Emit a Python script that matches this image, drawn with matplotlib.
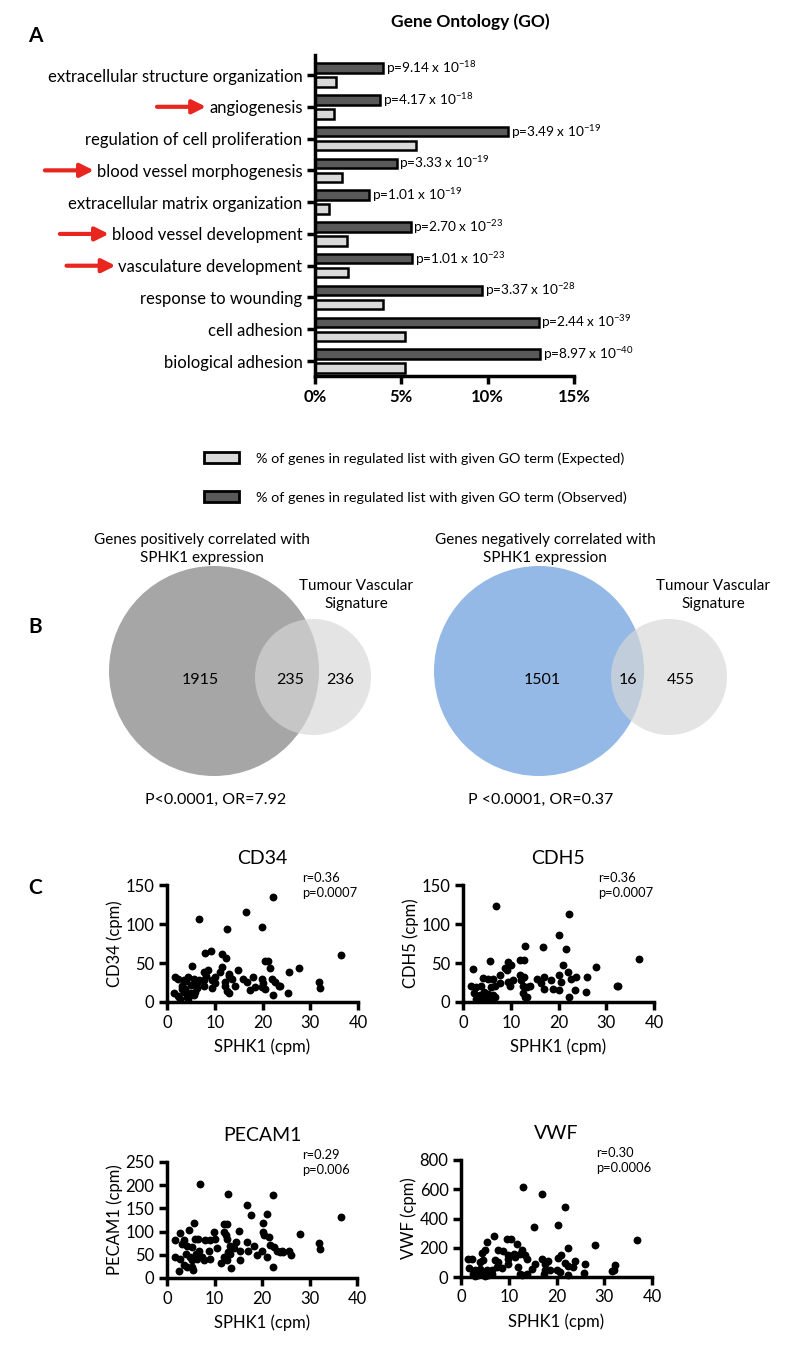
import matplotlib
matplotlib.use("Agg")
import matplotlib.pyplot as plt
from matplotlib.patches import Patch, Circle
import numpy as np

plt.rcParams['font.family'] = ['Lato', 'DejaVu Sans']
plt.rcParams['mathtext.fontset'] = 'custom'
plt.rcParams['mathtext.rm'] = 'Lato'
plt.rcParams['mathtext.it'] = 'Lato:italic'
plt.rcParams['mathtext.bf'] = 'Lato:bold'

# ---- panel A data (GO terms, top to bottom) ----
go_terms = ["extracellular structure organization", "angiogenesis",
            "regulation of cell proliferation", "blood vessel morphogenesis",
            "extracellular matrix organization", "blood vessel development",
            "vasculature development", "response to wounding",
            "cell adhesion", "biological adhesion"]
observed = [3.96, 3.78, 11.2, 4.73, 3.13, 5.54, 5.63, 9.7, 12.95, 13.03]
expected = [1.22, 1.10, 5.85, 1.58, 0.79, 1.84, 1.89, 3.96, 5.21, 5.21]
p_mantissa = ["9.14", "4.17", "3.49", "3.33", "1.01", "2.70", "1.01", "3.37", "2.44", "8.97"]
p_exponent = [-18, -18, -19, -19, -19, -23, -23, -28, -39, -40]
arrowed = ["angiogenesis", "blood vessel morphogenesis",
           "blood vessel development", "vasculature development"]
legend_labels = ["% of genes in regulated list with given GO term (Expected)",
                 "% of genes in regulated list with given GO term (Observed)"]

# ---- panel B data ----
venn_pos = [1915, 235, 236]
venn_neg = [1501, 16, 455]

# ---- panel C data ----
cd34_x = [22.1, 16.5, 6.6, 19.9, 12.6, 9.3, 7.9, 11.6, 12.4, 36.5, 21.1, 20.6, 5.2, 27.7, 21.5,
          11.5, 25.6, 8.6, 7.7, 14.9, 1.7, 2.4, 3.5, 4.5, 5.6, 6.6, 10.1, 12.9, 13.6, 16.0,
          18.1, 22.0, 6.3, 7.7, 9.4, 10.1, 12.2, 14.3, 16.7, 19.9, 20.2, 22.7, 23.4, 31.8, 32.1,
          1.4, 3.1, 3.5, 4.2, 4.9, 5.6, 5.9, 2.8, 4.5, 3.1, 3.8, 9.4, 12.6, 12.9, 17.4,
          18.5, 19.9, 20.6, 23.7, 22.1, 25.3, 12.2, 7.7, 2.2, 6.2, 5.0, 8.2, 13.0, 3.9, 11.0]
cd34_y = [134, 115, 106, 96, 93, 65, 63, 61, 57, 60, 53, 52, 46, 44, 43,
          45, 39, 41, 39, 41, 32, 30, 28, 32, 30, 28, 32, 33, 30, 30,
          32, 30, 24, 28, 28, 24, 26, 21, 26, 30, 24, 26, 21, 26, 18,
          11, 17, 13, 6, 11, 9, 13, 4, 4, 21, 17, 18, 14, 11, 15,
          19, 19, 17, 21, 9, 12, 20, 20, 8, 18, 22, 33, 36, 27, 38]

cdh5_x = [7.0, 22.3, 20.2, 12.9, 16.7, 21.6, 36.8, 5.6, 9.4, 11.9, 12.8, 27.9, 2.1, 8.7, 9.2,
          10.1, 20.9, 7.7, 11.9, 12.8, 15.4, 17.0, 18.5, 20.2, 22.0, 23.7, 26.0, 4.2, 5.2, 6.3,
          10.5, 12.2, 14.0, 1.7, 2.8, 3.8, 5.9, 6.6, 7.7, 9.4, 12.6, 13.3, 17.0, 18.8, 20.6,
          22.7, 20.2, 23.4, 25.8, 32.2, 32.5, 2.4, 3.5, 4.5, 5.2, 6.3, 6.6, 2.8, 3.8, 4.9,
          5.9, 12.6, 12.9, 13.3, 22.3, 9.8, 16.4]
cdh5_y = [123, 113, 86, 72, 70, 68, 55, 53, 51, 54, 54, 45, 42, 43, 41,
          47, 47, 34, 35, 32, 30, 32, 28, 34, 39, 32, 32, 31, 29, 30,
          28, 28, 21, 21, 19, 21, 19, 21, 24, 26, 21, 19, 17, 17, 26,
          30, 15, 15, 13, 21, 20, 11, 9, 13, 10, 9, 6, 4, 4, 6,
          4, 11, 6, 7, 7, 21, 24]

pecam1_x = [6.9, 12.8, 22.3, 16.8, 17.6, 21.0, 36.7, 5.6, 11.9, 12.6, 20.2, 2.7, 4.7, 9.8, 12.1,
            12.5, 15.1, 20.2, 20.4, 21.4, 27.9, 1.6, 3.5, 5.9, 6.5, 8.1, 9.1, 10.2, 12.7, 14.6,
            16.8, 18.4, 21.7, 22.6, 32.1, 3.1, 4.2, 5.3, 6.7, 8.8, 10.6, 13.3, 14.0, 12.9, 15.3,
            17.0, 19.9, 23.1, 23.7, 24.2, 25.6, 32.2, 1.75, 2.8, 3.9, 4.9, 5.3, 6.0, 6.3, 7.4,
            7.7, 9.1, 11.9, 12.6, 13.3, 15.4, 18.9, 21.0, 26.1, 3.5, 4.2, 5.3, 5.4, 2.5, 11.3,
            13.4, 22.3, 24.5]
pecam1_y = [202, 182, 179, 157, 136, 139, 132, 118, 116, 116, 118, 96, 104, 99, 99,
            93, 102, 99, 93, 89, 95, 81, 81, 84, 84, 81, 81, 84, 84, 77,
            77, 68, 72, 66, 75, 74, 70, 66, 59, 59, 65, 70, 65, 56, 59,
            58, 59, 59, 56, 59, 59, 63, 46, 41, 52, 45, 38, 52, 41, 45,
            39, 41, 45, 38, 52, 38, 49, 46, 49, 29, 24, 24, 18, 16, 32,
            22, 24, 56]

vwf_x = [12.9, 16.9, 21.7, 15.2, 20.3, 6.9, 36.9, 9.6, 10.5, 28.0, 5.5, 11.7, 12.7, 4.3, 5.0,
         7.8, 8.9, 9.9, 11.0, 12.4, 13.4, 22.4, 21.0, 20.3, 1.5, 2.4, 4.0, 4.7, 7.1, 7.8,
         9.9, 11.3, 13.8, 16.9, 15.5, 17.6, 18.3, 21.8, 22.5, 23.9, 23.4, 25.9, 32.2, 32.0, 1.7,
         2.9, 4.0, 5.4, 6.4, 7.5, 8.5, 9.9, 12.0, 14.8, 17.6, 18.7, 20.1, 20.8, 2.6, 3.6,
         4.7, 5.7, 6.4, 2.9, 5.0, 12.4, 12.7, 13.8, 17.3, 22.5, 25.7, 31.6]
vwf_y = [615, 567, 477, 344, 356, 280, 252, 257, 257, 222, 236, 225, 188, 165, 183,
         188, 179, 149, 160, 160, 149, 200, 149, 133, 126, 126, 103, 115, 115, 103,
         126, 138, 126, 126, 87, 92, 110, 96, 73, 110, 69, 87, 80, 46, 64,
         46, 57, 50, 46, 69, 64, 92, 69, 57, 46, 46, 50, 34, 18, 11,
         23, 11, 23, 5, 5, 18, 11, 23, 23, 11, 28, 41]

scatter_panels = [
    ("CD34", cd34_x, cd34_y, [0, 50, 100, 150], "r=0.36\np=0.0007"),
    ("CDH5", cdh5_x, cdh5_y, [0, 50, 100, 150], "r=0.36\np=0.0007"),
    ("PECAM1", pecam1_x, pecam1_y, [0, 50, 100, 150, 200, 250], "r=0.29\np=0.006"),
    ("VWF", vwf_x, vwf_y, [0, 200, 400, 600, 800], "r=0.30\np=0.0006"),
]

W, H = 800, 1356
DARK = '#595959'
LIGHT = '#d9d9d9'


def box(x0, y0, x1, y1):
    """pixel box (top-left origin) -> figure fraction rect"""
    return [x0 / W, 1 - y1 / H, (x1 - x0) / W, (y1 - y0) / H]


def style_axes(ax, size=11.5):
    for s in ['top', 'right']:
        ax.spines[s].set_visible(False)
    for s in ['left', 'bottom']:
        ax.spines[s].set_linewidth(2.5)
    ax.tick_params(direction='out', length=6, width=2.5, labelsize=size, pad=3)


fig = plt.figure(figsize=(W / 100, H / 100), dpi=100)

# ================= A: GO bar chart =================
ax = fig.add_axes(box(315, 55, 574, 376))
pos = np.arange(len(go_terms))
ax.barh(pos - 0.22, observed, height=0.3, color=DARK, edgecolor='black', linewidth=1.8)
ax.barh(pos + 0.22, expected, height=0.3, color=LIGHT, edgecolor='black', linewidth=1.8)
ax.set_xlim(0, 15)
ax.set_ylim(len(go_terms) - 1 + 0.47, -0.63)
style_axes(ax, 12)
ax.set_yticks(pos, go_terms)
ax.set_xticks([0, 5, 10, 15], ['0%', '5%', '10%', '15%'], fontweight='bold')
for i, (v, m, e) in enumerate(zip(observed, p_mantissa, p_exponent)):
    ax.annotate(f'p={m} x 10$^{{{e}}}$', (v, i - 0.22), xytext=(2, 0),
                textcoords='offset points', va='center', fontsize=9.8)

fig.text(470 / W, 1 - 22 / H, 'Gene Ontology (GO)', fontsize=12.5, fontweight='bold',
         ha='center', va='center')

# red arrows next to the vascular terms
fig.canvas.draw()
renderer = fig.canvas.get_renderer()
for lbl, i in zip(ax.get_yticklabels(), pos):
    if lbl.get_text() in arrowed:
        bb = lbl.get_window_extent(renderer)
        yc = ax.transData.transform((0, i))[1]
        ax.annotate('', xy=(bb.x0 - 3, yc), xytext=(bb.x0 - 52, yc),
                    xycoords='figure pixels', textcoords='figure pixels',
                    annotation_clip=False,
                    arrowprops=dict(arrowstyle='-|>', color='#e8251f', lw=3,
                                    mutation_scale=20, shrinkA=0, shrinkB=0))

handles = [Patch(facecolor=LIGHT, edgecolor='black', linewidth=2),
           Patch(facecolor=DARK, edgecolor='black', linewidth=2)]
fig.legend(handles, legend_labels, loc='upper left', bbox_to_anchor=(191 / W, 1 - 439 / H),
           frameon=False, fontsize=10.4, handlelength=2.4, handleheight=0.8,
           handletextpad=1.2, labelspacing=1.85)

# ================= B: Venn diagrams =================
axb = fig.add_axes([0, 1 - 820 / H, 1, (820 - 510) / H])
axb.set_xlim(0, W)
axb.set_ylim(820, 510)
axb.axis('off')

venns = [
    (venn_pos, '#a6a6a6', 214, 313, 200, 290, 340, 356, 202,
     "Genes positively correlated with\nSPHK1 expression", "P<0.0001, OR=7.92"),
    (venn_neg, '#95b9e6', 539, 669, 542, 628, 681, 713, 545,
     "Genes negatively correlated with\nSPHK1 expression", "P <0.0001, OR=0.37"),
]
for counts, col, cx_big, cx_small, tx0, tx1, tx2, sig_x, title_x, title, stat in venns:
    axb.add_patch(Circle((cx_big, 671), 105, color=col, lw=0, zorder=1))
    axb.add_patch(Circle((cx_small, 677), 58, color='#d7d7d7', alpha=0.67, lw=0, zorder=2))
    for tx, n in zip([tx0, tx1, tx2], counts):
        axb.text(tx, 680, str(n), fontsize=11.5, ha='center', va='center', zorder=3)
    axb.text(title_x, 549, title, fontsize=11, ha='center', va='center', linespacing=1.3)
    axb.text(sig_x, 595, "Tumour Vascular\nSignature", fontsize=11, ha='center',
             va='center', linespacing=1.3)
    axb.text(cx_big + 2, 800, stat, fontsize=11.5, ha='center', va='center')

# ================= C: scatter plots =================
boxes = [box(167, 885, 358, 1002), box(463, 885, 654, 1002),
         box(167, 1162, 357, 1278), box(461, 1160, 652, 1277)]
for (name, xs, ys, yt, stat), rect in zip(scatter_panels, boxes):
    axc = fig.add_axes(rect)
    axc.scatter(xs, ys, s=32, color='black', clip_on=False, zorder=3, linewidths=0)
    axc.set_xlim(0, 40)
    axc.set_ylim(0, yt[-1])
    style_axes(axc, 12)
    axc.set_xticks([0, 10, 20, 30, 40])
    axc.set_yticks(yt)
    axc.set_xlabel('SPHK1 (cpm)', fontsize=12, labelpad=6)
    axc.set_ylabel(f'{name} (cpm)', fontsize=12, labelpad=2)
    axc.text(0.5, 1.23, name, transform=axc.transAxes, fontsize=14, ha='center', va='center')
    axc.text(0.71, 1.11, stat, transform=axc.transAxes, fontsize=9.3, ha='left', va='top',
             linespacing=1.3)

for letter, y in [('A', 36), ('B', 627), ('C', 888)]:
    fig.text(28 / W, 1 - y / H, letter, fontsize=15, fontweight='bold', va='center')

fig.savefig('out.png', dpi=100)
